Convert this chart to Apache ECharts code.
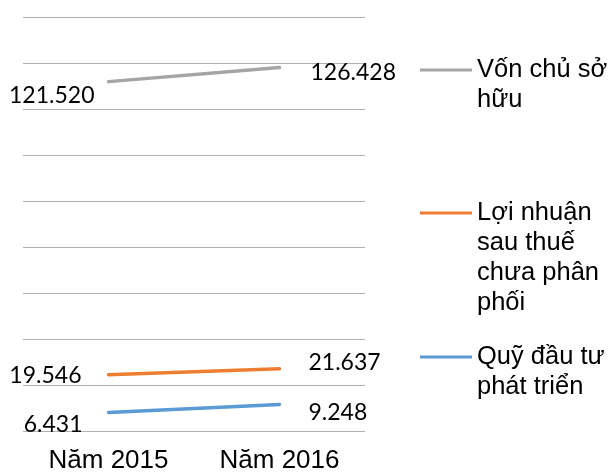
<!DOCTYPE html>
<html>
<head>
<meta charset="utf-8">
<script src="https://cdn.jsdelivr.net/npm/echarts@6/dist/echarts.min.js"></script>
<style>
    html, body { margin: 0; padding: 0; background: #ffffff; }
    #chart { width: 614px; height: 474px; }
</style>
</head>
<body>
<div id="chart"></div>
<script>
    // du lieu doc tu hinh
    var categories = ['Năm 2015', 'Năm 2016'];
    var seriesNames = ['Vốn chủ sở hữu', 'Lợi nhuận sau thuế chưa phân phối', 'Quỹ đầu tư phát triển'];
    var vonChuSoHuu = [121.520, 126.428];
    var loiNhuan = [19.546, 21.637];
    var quyDauTu = [6.431, 9.248];

    var colors = ['#a5a5a5', '#ed7d31', '#5b9bd5'];
    var labelFont = 'Lato, "DejaVu Sans", sans-serif';
    var textFont = '"Liberation Sans", Arial, sans-serif';

    // vi tri nhan tung diem: [position, distance, offsetY]
    var labelPos = [
        [['left', 13.5, 13.5], ['right', 30.5, 5]],
        [['left', 26.5, 0.5], ['right', 28.5, -6]],
        [['left', 25.5, 12.5], ['right', 28.5, 8.5]]
    ];

    // chu chu thich xuong dong nhu trong hinh
    var legendText = {
        'Vốn chủ sở hữu': '\nVốn chủ sở\nhữu',
        'Lợi nhuận sau thuế chưa phân phối': '\n\n\nLợi nhuận\nsau thuế\nchưa phân\nphối',
        'Quỹ đầu tư phát triển': '\nQuỹ đầu tư\nphát triển'
    };

    function buildData(values, idx) {
        return values.map(function (v, i) {
            var p = labelPos[idx][i];
            return {
                value: v,
                label: { position: p[0], distance: p[1], offset: [0, p[2]] }
            };
        });
    }

    function makeLegend(name, top) {
        return {
            data: [name],
            left: 420,
            top: top,
            padding: 0,
            icon: 'rect',
            itemWidth: 52,
            itemHeight: 3,
            itemGap: 0,
            formatter: function (n) { return legendText[n]; },
            textStyle: {
                fontFamily: textFont,
                fontSize: 25.5,
                lineHeight: 30,
                color: '#000000'
            }
        };
    }

    var myChart = echarts.init(document.getElementById('chart'));
    myChart.setOption({
        animation: false,
        color: colors,
        grid: {
            left: 23,
            right: 249,
            top: 17,
            bottom: 41,
            containLabel: false
        },
        legend: [
            makeLegend(seriesNames[0], 25),
            makeLegend(seriesNames[1], 108),
            makeLegend(seriesNames[2], 312)
        ],
        xAxis: {
            type: 'category',
            data: categories,
            boundaryGap: true,
            axisLine: { show: false },
            axisTick: { show: false },
            axisLabel: {
                margin: 17,
                fontFamily: textFont,
                fontSize: 26,
                color: '#000000'
            }
        },
        yAxis: {
            type: 'value',
            min: 0,
            max: 144,
            interval: 16,
            axisLabel: { show: false },
            axisLine: { show: false },
            axisTick: { show: false },
            splitLine: {
                lineStyle: { color: '#b0b0b0', width: 1 }
            }
        },
        series: [vonChuSoHuu, loiNhuan, quyDauTu].map(function (vals, idx) {
            return {
                name: seriesNames[idx],
                type: 'line',
                symbol: 'circle',
                symbolSize: 1,
                showSymbol: true,
                lineStyle: { width: 3.5, color: colors[idx], cap: 'round' },
                label: {
                    show: true,
                    fontFamily: labelFont,
                    fontSize: 23,
                    color: '#000000',
                    formatter: function (p) { return p.value.toFixed(3); }
                },
                data: buildData(vals, idx)
            };
        })
    });
</script>
</body>
</html>
